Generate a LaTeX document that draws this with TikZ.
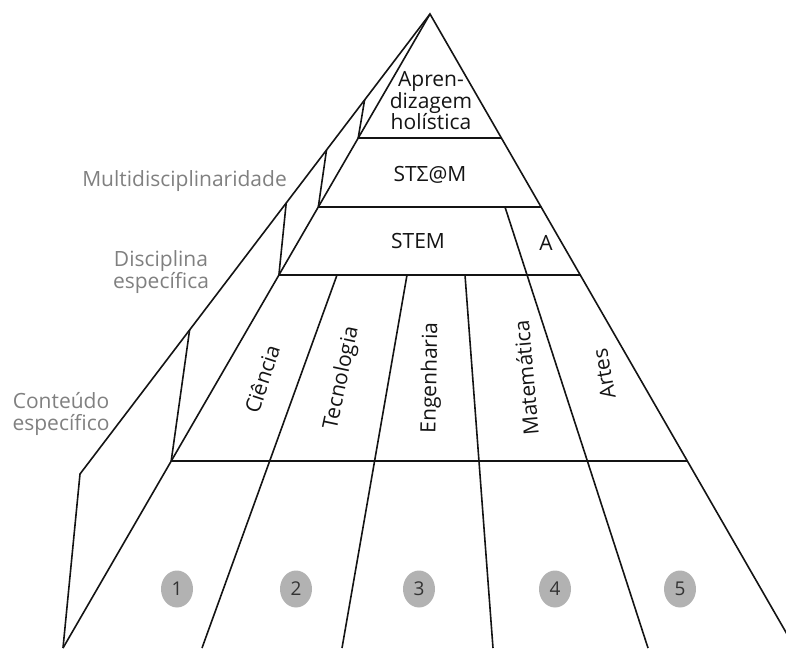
\documentclass[tikz,border=0pt]{standalone}
\usepackage{fontspec}
\setmainfont{Open Sans}
\usetikzlibrary{shapes.geometric}
\definecolor{sidegray}{gray}{0.5}
\definecolor{dotgray}{gray}{0.7}
\definecolor{inkgray}{gray}{0.08}
\tikzset{
  edge/.style={line width=1.6pt, color=inkgray},
  band/.style={font=\fontsize{21}{21.5}\selectfont, align=center, text=inkgray},
  side/.style={font=\fontsize{21}{22}\selectfont, align=center, text=sidegray},
  num/.style={ellipse, fill=dotgray, minimum width=32pt, minimum height=37pt,
    font=\fontsize{19}{19}\selectfont, text=black!80}
}

\begin{document}
\begin{tikzpicture}[x=1pt, y=1pt, every node/.style={inner sep=0pt}]
	\useasboundingbox (0,0) rectangle (786,-648);
	\clip (0,0) rectangle (786,-648);
	% outline of the pyramid
	\coordinate (apex) at (430,-14);
	\coordinate (lb) at (63,-648);
	\coordinate (rb) at (795,-648);
	\coordinate (kink) at (80,-474);
	\draw[edge] (lb) -- (apex) -- (rb);
	\draw[edge] (apex) -- (kink) -- (lb);
	% levels
	\coordinate (l1) at (358.2,-138);  \coordinate (r1) at (501.4,-138);
	\coordinate (l2) at (318.3,-207);  \coordinate (r2) at (541.1,-207);
	\coordinate (l3) at (278.9,-275);  \coordinate (r3) at (580.3,-275);
	\coordinate (l4) at (171.2,-461);  \coordinate (r4) at (687.3,-461);
	\draw[edge] (l1) -- (r1);
	\draw[edge] (l2) -- (r2);
	\draw[edge] (l3) -- (r3);
	\draw[edge] (l4) -- (r4);
	% side face
	\draw[edge] (l1) -- (364.6,-100);
	\draw[edge] (l2) -- (326.5,-150);
	\draw[edge] (l3) -- (286.2,-203);
	\draw[edge] (l4) -- (189.6,-330);
	% columns
	\draw[edge] (337,-275) -- (202,-648);
	\draw[edge] (407,-275) -- (342,-648);
	\draw[edge] (465,-275) -- (493,-648);
	\draw[edge] (505,-207) -- (648,-648);

	\node[band] (holist) at (431,-101) {Apren-\\dizagem\\holística};
	\node[band] (steam) at (430,-175) {STΣ@M};
	\node[band] (stem) at (418,-241) {STEM};
	\node[band] (arts) at (546,-243) {A};

	\node[band, rotate=72] (cien) at (262,-379) {Ciência};
	\node[band, rotate=78] (tecn) at (342,-378) {Tecnologia};
	\node[band, rotate=89] (engn) at (431,-378) {Engenharia};
	\node[band, rotate=95] (matm) at (526,-378) {Matemática};
	\node[band, rotate=100] (arte) at (604,-374) {Artes};

	\node[side, anchor=east] (multi) at (287,-181) {Multidisciplinaridade};
	\node[side] (disc) at (161,-272) {Disciplina\\específica};
	\node[side] (cont) at (61,-414) {Conteúdo\\específico};

	\node[num] (n1) at (177,-589) {1};
	\node[num] (n2) at (296,-589) {2};
	\node[num] (n3) at (419,-589) {3};
	\node[num] (n4) at (555,-589) {4};
	\node[num] (n5) at (680,-589) {5};
\end{tikzpicture}
\end{document}
